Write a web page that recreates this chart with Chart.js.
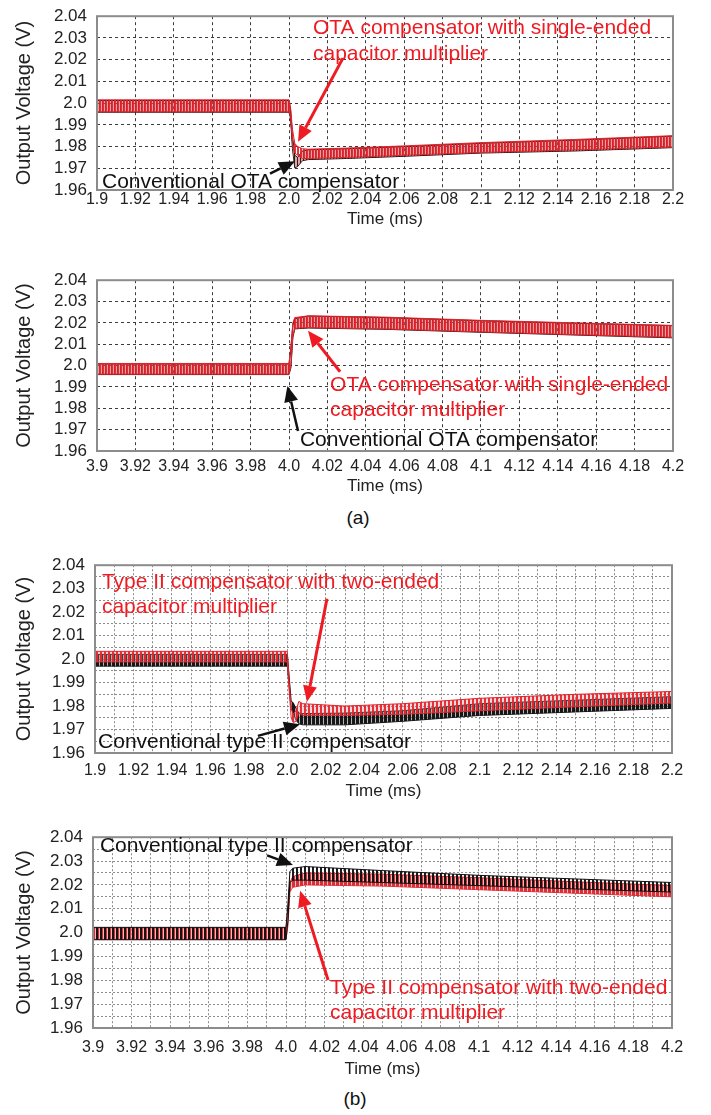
<!DOCTYPE html>
<html>
<head>
<meta charset="utf-8">
<script src="https://cdn.jsdelivr.net/npm/chart.js@4.4.0/dist/chart.umd.min.js"></script>
<style>
  body { margin: 0; width: 711px; height: 1115px; background: #fff; position: relative; overflow: hidden;
         font-family: "Liberation Sans", Arial, sans-serif; }
  canvas { position: absolute; left: 0; }
  .cap { position: absolute; font-size: 19px; color: #111; transform: translateX(-50%); }
</style>
</head>
<body>
<canvas id="p1"></canvas>
<canvas id="p2"></canvas>
<canvas id="p3"></canvas>
<canvas id="p4"></canvas>
<div class="cap" style="left:358px;top:507px">(a)</div>
<div class="cap" style="left:355px;top:1088px">(b)</div>
<script>
// ---- axis ticks ----
const xTicks1 = [1.9, 1.92, 1.94, 1.96, 1.98, 2.0, 2.02, 2.04, 2.06, 2.08, 2.1, 2.12, 2.14, 2.16, 2.18, 2.2];
const xLabels1 = ["1.9", "1.92", "1.94", "1.96", "1.98", "2.0", "2.02", "2.04", "2.06", "2.08", "2.1", "2.12", "2.14", "2.16", "2.18", "2.2"];
const xMinor1 = [1.91, 1.93, 1.95, 1.97, 1.99, 2.01, 2.03, 2.05, 2.07, 2.09, 2.11, 2.13, 2.15, 2.17, 2.19];
const xTicks4 = [3.9, 3.92, 3.94, 3.96, 3.98, 4.0, 4.02, 4.04, 4.06, 4.08, 4.1, 4.12, 4.14, 4.16, 4.18, 4.2];
const xLabels4 = ["3.9", "3.92", "3.94", "3.96", "3.98", "4.0", "4.02", "4.04", "4.06", "4.08", "4.1", "4.12", "4.14", "4.16", "4.18", "4.2"];
const xMinor4 = [3.91, 3.93, 3.95, 3.97, 3.99, 4.01, 4.03, 4.05, 4.07, 4.09, 4.11, 4.13, 4.15, 4.17, 4.19];
const yTicks = [1.96, 1.97, 1.98, 1.99, 2.0, 2.01, 2.02, 2.03, 2.04];
const yLabels = ["1.96", "1.97", "1.98", "1.99", "2.0", "2.01", "2.02", "2.03", "2.04"];
const yMinor = [1.965, 1.975, 1.985, 1.995, 2.005, 2.015, 2.025, 2.035];

// ---- (a) top: OTA, load step up, 1.9 - 2.2 ms (ripple envelopes, V) ----
const otaDownTime   = [1.9, 2.0, 2.0008, 2.0018, 2.003, 2.0045, 2.007, 2.01, 2.03, 2.06, 2.1, 2.15, 2.2];
const otaDownConvHi = [2.0012, 2.0012, 1.997, 1.985, 1.976, 1.975, 1.978, 1.9785, 1.979, 1.980, 1.9815, 1.983, 1.9848];
const otaDownConvLo = [1.9958, 1.9958, 1.993, 1.979, 1.9702, 1.9708, 1.9735, 1.974, 1.9745, 1.9755, 1.977, 1.978, 1.9795];
const otaDownMultHi = [2.0015, 2.0015, 1.998, 1.988, 1.9815, 1.980, 1.979, 1.9788, 1.9793, 1.9803, 1.9818, 1.9833, 1.985];
const otaDownMultLo = [1.996, 1.996, 1.994, 1.982, 1.977, 1.976, 1.9745, 1.9745, 1.975, 1.976, 1.9773, 1.9785, 1.9798];

// ---- (a) bottom: OTA, load step down, 3.9 - 4.2 ms ----
const otaUpTime   = [3.9, 4.0, 4.001, 4.002, 4.003, 4.01, 4.05, 4.1, 4.15, 4.2];
const otaUpConvHi = [2.0008, 2.0008, 2.008, 2.019, 2.022, 2.0232, 2.0225, 2.021, 2.0198, 2.0187];
const otaUpConvLo = [1.9958, 1.9958, 1.999, 2.013, 2.0172, 2.0176, 2.017, 2.0156, 2.0143, 2.013];
const otaUpMultHi = [2.001, 2.001, 2.009, 2.020, 2.0225, 2.0233, 2.0227, 2.0212, 2.020, 2.0188];
const otaUpMultLo = [1.996, 1.996, 2.0, 2.014, 2.0175, 2.0178, 2.0172, 2.0158, 2.0145, 2.0133];

// ---- (b) top: type II, 1.9 - 2.2 ms ----
const t2DownTime   = [1.9, 2.0, 2.001, 2.002, 2.003, 2.0045, 2.006, 2.008, 2.03, 2.06, 2.1, 2.15, 2.2];
const t2DownConvHi = [2.002, 2.002, 1.992, 1.982, 1.9815, 1.979, 1.977, 1.9768, 1.977, 1.978, 1.981, 1.9825, 1.984];
const t2DownConvLo = [1.997, 1.997, 1.988, 1.979, 1.977, 1.974, 1.9725, 1.972, 1.972, 1.9735, 1.976, 1.9775, 1.979];
const t2DownMultHi = [2.0033, 2.0033, 1.990, 1.979, 1.9765, 1.978, 1.982, 1.981, 1.980, 1.981, 1.9833, 1.985, 1.9862];
const t2DownMultLo = [1.9988, 1.9988, 1.986, 1.975, 1.973, 1.9735, 1.977, 1.976, 1.976, 1.9765, 1.978, 1.9797, 1.9813];

// ---- (b) bottom: type II, 3.9 - 4.2 ms ----
const t2UpTime   = [3.9, 4.0, 4.001, 4.002, 4.0035, 4.01, 4.05, 4.1, 4.15, 4.2];
const t2UpConvHi = [2.0022, 2.0022, 2.012, 2.0255, 2.027, 2.0277, 2.026, 2.024, 2.0225, 2.021];
const t2UpConvLo = [1.997, 1.997, 2.005, 2.021, 2.022, 2.022, 2.021, 2.0197, 2.0183, 2.017];
const t2UpMultHi = [2.002, 2.002, 2.010, 2.021, 2.0235, 2.025, 2.0245, 2.023, 2.0213, 2.0197];
const t2UpMultLo = [1.9972, 1.9972, 2.003, 2.017, 2.019, 2.020, 2.0195, 2.018, 2.0165, 2.015];

const RED = "#ef1b22";
const WAVE_RED = "#e0242c";
const BLACK = "#111";
const FONT = '"Liberation Sans", Arial, sans-serif';

const panels = [
  {
    id: "p1", time: otaDownTime, conv: [otaDownConvHi, otaDownConvLo], mult: [otaDownMultHi, otaDownMultLo],
    xTicks: xTicks1, xLabels: xLabels1, xMinor: [], yMinor: [], redOnTop: true, fine: false,
    box: { left: 97, right: 673, top: 8, bottom: 190, label: 200, title: 220 },
    notes: [
      { x: 2.0125, y: 2.0343, lines: ["OTA compensator with single-ended", "capacitor multiplier"], color: RED, gap: 26 },
      { x: 1.9026, y: 1.9635, lines: ["Conventional OTA compensator"], color: BLACK },
    ],
    arrows: [
      { from: [2.0281, 2.0207], to: [2.0047, 1.9822], color: RED, w: 3 },
      { from: [1.9901, 1.9675], to: [2.0031, 1.9732], color: BLACK, w: 2.5 },
    ],
  },
  {
    id: "p2", time: otaUpTime, conv: [otaUpConvHi, otaUpConvLo], mult: [otaUpMultHi, otaUpMultLo],
    xTicks: xTicks4, xLabels: xLabels4, xMinor: [], yMinor: [], redOnTop: true, fine: false,
    box: { left: 97, right: 673, top: 272, bottom: 451, label: 467, title: 487 },
    notes: [
      { x: 4.0214, y: 1.9908, lines: ["OTA compensator with single-ended", "capacitor multiplier"], color: RED, gap: 25 },
      { x: 4.0057, y: 1.9649, lines: ["Conventional OTA compensator"], color: BLACK },
    ],
    arrows: [
      { from: [4.0266, 1.9971], to: [4.0099, 2.0163], color: RED, w: 3 },
      { from: [4.0047, 1.9694], to: [3.9992, 1.9905], color: BLACK, w: 2.5 },
    ],
  },
  {
    id: "p3", time: t2DownTime, conv: [t2DownConvHi, t2DownConvLo], mult: [t2DownMultHi, t2DownMultLo],
    xTicks: xTicks1, xLabels: xLabels1, xMinor: xMinor1, yMinor: yMinor, redOnTop: true, fine: true,
    box: { left: 95, right: 672, top: 557, bottom: 753, label: 771, title: 792 },
    notes: [
      { x: 1.9036, y: 2.0327, lines: ["Type II compensator with two-ended", "capacitor multiplier"], color: RED, gap: 25 },
      { x: 1.9016, y: 1.9645, lines: ["Conventional type II compensator"], color: BLACK },
    ],
    arrows: [
      { from: [2.0206, 2.0257], to: [2.0102, 1.9818], color: RED, w: 3 },
      { from: [1.9847, 1.9673], to: [2.0066, 1.9722], color: BLACK, w: 2.5 },
    ],
  },
  {
    id: "p4", time: t2UpTime, conv: [t2UpConvHi, t2UpConvLo], mult: [t2UpMultHi, t2UpMultLo],
    xTicks: xTicks4, xLabels: xLabels4, xMinor: xMinor4, yMinor: yMinor, redOnTop: false, fine: true,
    box: { left: 93, right: 672, top: 829, bottom: 1028, label: 1048, title: 1070 },
    notes: [
      { x: 3.9036, y: 2.0364, lines: ["Conventional type II compensator"], color: BLACK },
      { x: 4.0228, y: 1.9765, lines: ["Type II compensator with two-ended", "capacitor multiplier"], color: RED, gap: 25 },
    ],
    arrows: [
      { from: [3.9902, 2.0324], to: [4.0036, 2.0283], color: BLACK, w: 2.5 },
      { from: [4.0218, 1.9801], to: [4.0073, 2.0175], color: RED, w: 3 },
    ],
  },
];

// vertical hatch pattern to stand in for the switching ripple
function hatch(ctx, color, period, width, tint) {
  const c = document.createElement("canvas");
  c.width = period; c.height = 2;
  const g = c.getContext("2d");
  g.fillStyle = tint; g.fillRect(0, 0, period, 2);
  g.fillStyle = color; g.fillRect(0, 0, width, 2);
  return ctx.createPattern(c, "repeat");
}

function pts(time, vals) {
  return time.map((t, i) => ({ x: t, y: vals[i] }));
}

function arrow(ctx, x1, y1, x2, y2, color, w) {
  const a = Math.atan2(y2 - y1, x2 - x1);
  const len = 16, half = 7;
  const bx = x2 - len * Math.cos(a), by = y2 - len * Math.sin(a);
  ctx.save();
  ctx.strokeStyle = color; ctx.fillStyle = color; ctx.lineWidth = w;
  ctx.beginPath(); ctx.moveTo(x1, y1); ctx.lineTo(bx, by); ctx.stroke();
  ctx.beginPath();
  ctx.moveTo(x2, y2);
  ctx.lineTo(bx + half * Math.sin(a), by - half * Math.cos(a));
  ctx.lineTo(bx - half * Math.sin(a), by + half * Math.cos(a));
  ctx.closePath(); ctx.fill();
  ctx.restore();
}

const frameAndNotes = {
  id: "frameAndNotes",
  afterDraw(chart, args, opts) {
    const { ctx, chartArea: a, scales: { x, y } } = chart;
    ctx.save();
    ctx.strokeStyle = "#8c8c8c"; ctx.lineWidth = 2;
    ctx.strokeRect(a.left, a.top, a.right - a.left, a.bottom - a.top);
    ctx.font = "21px " + FONT;
    ctx.textBaseline = "middle"; ctx.textAlign = "left";
    opts.notes.forEach((n) => {
      ctx.fillStyle = n.color;
      n.lines.forEach((s, i) => ctx.fillText(s, x.getPixelForValue(n.x), y.getPixelForValue(n.y) + i * (n.gap || 25)));
    });
    opts.arrows.forEach((r) => arrow(ctx,
      x.getPixelForValue(r.from[0]), y.getPixelForValue(r.from[1]),
      x.getPixelForValue(r.to[0]), y.getPixelForValue(r.to[1]), r.color, r.w));
    ctx.restore();
  },
};

Chart.defaults.font.family = FONT;
Chart.defaults.color = "#222";

panels.forEach((p) => {
  const b = p.box;
  const canvas = document.getElementById(p.id);
  const top = b.top - 12;
  const height = Math.round(b.title + 10.2 - top);
  canvas.style.top = top + "px";
  canvas.width = 711; canvas.height = height;
  const ctx = canvas.getContext("2d");

  let convFill, multFill;
  if (p.fine) {
    convFill = p.redOnTop ? hatch(ctx, "rgba(15,15,15,0.95)", 4, 3, "rgba(110,110,110,0.5)")
                          : hatch(ctx, "rgba(15,15,15,0.95)", 4, 2, "rgba(0,0,0,0)");
    multFill = p.redOnTop ? hatch(ctx, "rgba(228,40,50,0.95)", 4, 2, "rgba(240,130,135,0.3)")
                          : hatch(ctx, "rgba(215,40,50,0.95)", 4, 3, "rgba(240,140,140,0.6)");
  } else {
    convFill = hatch(ctx, "rgba(30,15,15,0.9)", 3, 1, "rgba(200,90,90,0.55)");
    multFill = hatch(ctx, "rgba(228,35,45,0.92)", 3, 2, "rgba(0,0,0,0)");
  }

  const xAll = p.xTicks.concat(p.xMinor).sort((a, c) => a - c);
  const yAll = yTicks.concat(p.yMinor).sort((a, c) => a - c);
  const xLab = new Map(p.xTicks.map((v, i) => [v.toFixed(3), p.xLabels[i]]));
  const yLab = new Map(yTicks.map((v, i) => [v.toFixed(3), yLabels[i]]));
  const gridColor = p.fine ? "#8a8a8a" : "#3c3c3c";
  const gridDash = p.fine ? [2, 2] : [3, 3];

  new Chart(canvas, {
    type: "line",
    data: {
      datasets: [
        { data: pts(p.time, p.conv[0]), borderColor: BLACK, borderWidth: 1, fill: "+1", backgroundColor: convFill, order: p.redOnTop ? 2 : 1 },
        { data: pts(p.time, p.conv[1]), borderColor: BLACK, borderWidth: 1, fill: false, order: p.redOnTop ? 2 : 1 },
        { data: pts(p.time, p.mult[0]), borderColor: WAVE_RED, borderWidth: 1, fill: "+1", backgroundColor: multFill, order: p.redOnTop ? 1 : 2 },
        { data: pts(p.time, p.mult[1]), borderColor: WAVE_RED, borderWidth: 1, fill: false, order: p.redOnTop ? 1 : 2 },
      ],
    },
    options: {
      responsive: false,
      animation: false,
      layout: { padding: { top: 12, right: 711 - b.right, bottom: 0, left: 0 } },
      elements: { point: { radius: 0 }, line: { tension: 0 } },
      plugins: {
        legend: { display: false },
        tooltip: { enabled: false },
        frameAndNotes: { notes: p.notes, arrows: p.arrows },
      },
      scales: {
        x: {
          type: "linear",
          min: p.xTicks[0], max: p.xTicks[p.xTicks.length - 1],
          afterBuildTicks: (s) => { s.ticks = xAll.map((v) => ({ value: v })); },
          afterFit: (s) => { s.height = height - (b.bottom - top); },
          ticks: {
            autoSkip: false, maxRotation: 0, padding: b.label - b.bottom - 9.6,
            font: { size: 16 }, color: "#222",
            callback: (v) => xLab.get(Number(v).toFixed(3)) || "",
          },
          grid: { color: gridColor, lineWidth: 1, drawTicks: false },
          border: { display: false, dash: gridDash },
          title: { display: true, text: "Time (ms)", font: { size: 17 }, color: "#222", padding: 0 },
        },
        y: {
          min: 1.96, max: 2.04,
          afterBuildTicks: (s) => { s.ticks = yAll.map((v) => ({ value: v })); },
          afterFit: (s) => { s.width = b.left; },
          ticks: {
            autoSkip: false, padding: 10, font: { size: 17 }, color: "#222",
            callback: (v) => yLab.get(Number(v).toFixed(3)) || "",
          },
          grid: { color: gridColor, lineWidth: 1, drawTicks: false },
          border: { display: false, dash: gridDash },
          title: { display: true, text: "Output Voltage (V)", font: { size: 20 }, color: "#222", padding: { top: 12, bottom: 0 } },
        },
      },
    },
    plugins: [frameAndNotes],
  });
});
</script>
</body>
</html>
